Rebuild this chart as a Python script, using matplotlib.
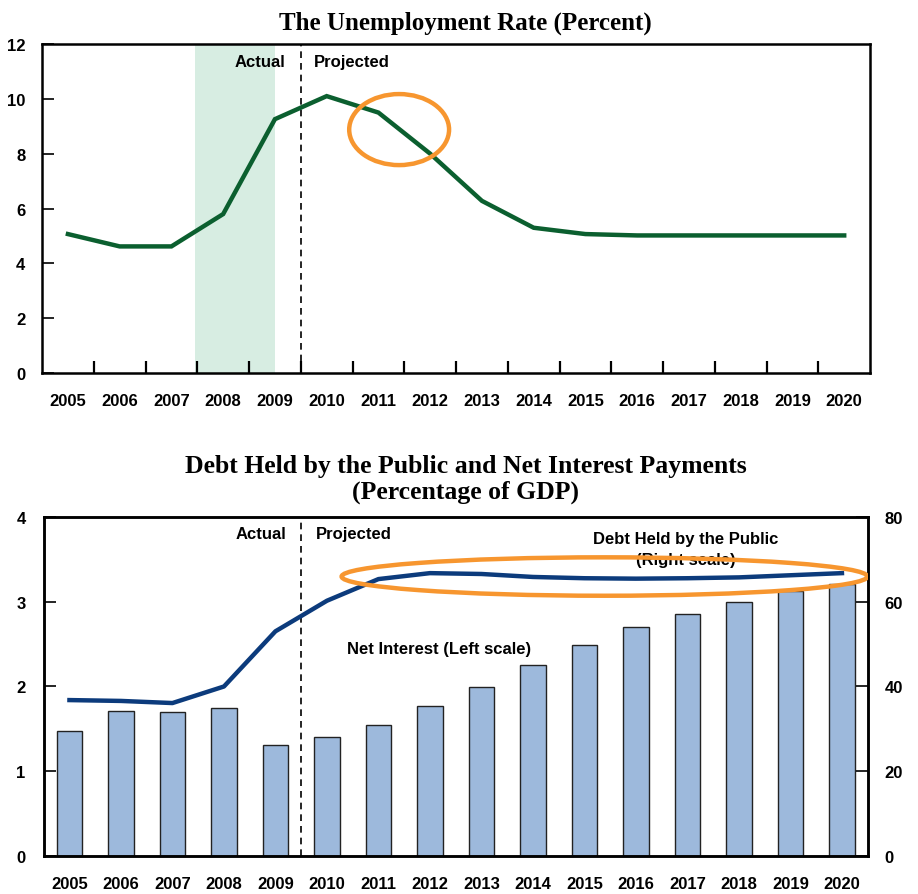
import matplotlib
matplotlib.use('Agg')
import matplotlib.pyplot as plt
from matplotlib.patches import Ellipse

plt.rcParams['font.family'] = ['Liberation Sans', 'DejaVu Sans']

# data
years = [str(y) for y in range(2005, 2021)]
unemployment = [5.07, 4.62, 4.62, 5.8, 9.26, 10.1, 9.5, 8.0, 6.28, 5.3,
                5.07, 5.02, 5.02, 5.02, 5.02, 5.02]
net_interest = [1.47, 1.71, 1.70, 1.75, 1.31, 1.41, 1.55, 1.77, 1.99, 2.25,
                2.49, 2.70, 2.85, 3.00, 3.12, 3.21]
debt_public = [36.8, 36.6, 36.1, 40.0, 53.0, 60.2, 65.3, 66.7, 66.5, 65.8,
               65.5, 65.4, 65.5, 65.7, 66.2, 66.7]

GREEN = '#0b5f2f'
NAVY = '#0c3b7c'
BAR = '#9db9dc'
ORANGE = '#f7962f'
SHADE = '#d7ede2'

x = list(range(len(years)))
bounds = [i + 0.5 for i in x[:-1]]

fig = plt.figure(figsize=(9.18, 8.95), dpi=100)

# ---- top panel: unemployment rate
ax1 = fig.add_axes([0.0458, 0.582, 0.902, 0.3677])
ax1.axvspan(2.45, 4.0, color=SHADE, lw=0, zorder=0)
ax1.axvline(4.5, color='black', ls=(0, (4, 3)), lw=1.2, zorder=1)
ax1.plot(x, unemployment, color=GREEN, lw=3.2, solid_joinstyle='miter', zorder=3)
ax1.add_patch(Ellipse((6.40, 8.88), 1.93, 2.59, fill=False, ec=ORANGE, lw=3.2, zorder=4))
ax1.set_xlim(-0.5, 15.5)
ax1.set_ylim(0, 12)
ax1.set_xticks(x)
ax1.set_xticklabels(years)
ax1.set_xticks(bounds, minor=True)
ax1.tick_params(axis='x', which='major', length=0, pad=14)
ax1.tick_params(axis='x', which='minor', direction='in', length=8.6, width=1.6)
ax1.set_yticks(range(0, 13, 2))
ax1.tick_params(axis='y', direction='in', length=8.6, width=1.2, pad=12)
for lab in ax1.get_xticklabels() + ax1.get_yticklabels():
    lab.set_fontweight('bold')
    lab.set_fontsize(12)
for s in ax1.spines.values():
    s.set_linewidth(1.8)
ax1.text(4.2, 11.38, 'Actual', ha='right', va='center', fontsize=12, fontweight='bold')
ax1.text(4.76, 11.38, 'Projected', ha='left', va='center', fontsize=12, fontweight='bold')
fig.text(0.507, 0.974, 'The Unemployment Rate (Percent)', ha='center', va='center',
         fontsize=18, fontweight='bold', family=['Liberation Serif', 'DejaVu Serif'])

# ---- bottom panel: debt and net interest
ax2 = fig.add_axes([0.0476, 0.0421, 0.8976, 0.3795])
ax2.bar(x, net_interest, width=0.5, color=BAR, edgecolor='#222222', lw=1.0, zorder=2)
ax2.axvline(4.5, color='black', ls=(0, (4, 3)), lw=1.2, zorder=1)
ax2.set_xlim(-0.5, 15.5)
ax2.set_ylim(0, 4)
ax2.set_xticks(x)
ax2.set_xticklabels(years)
ax2.tick_params(axis='x', length=0, pad=14)
ax2.set_yticks(range(0, 5))
ax2.tick_params(axis='y', direction='in', length=8.6, width=1.2, pad=13)

ax3 = ax2.twinx()
ax3.plot(x, debt_public, color=NAVY, lw=3.2, zorder=3)
ax3.add_patch(Ellipse((10.39, 65.9), 10.21, 9.05, fill=False, ec=ORANGE, lw=3.2, zorder=5))
ax3.set_ylim(0, 80)
ax3.set_yticks(range(0, 81, 20))
ax3.tick_params(axis='y', direction='in', length=8.6, width=1.2, pad=12)

for lab in ax2.get_xticklabels() + ax2.get_yticklabels() + ax3.get_yticklabels():
    lab.set_fontweight('bold')
    lab.set_fontsize(12)
for a in (ax2, ax3):
    for s in a.spines.values():
        s.set_linewidth(1.8)

ax2.text(4.22, 3.80, 'Actual', ha='right', va='center', fontsize=12, fontweight='bold')
ax2.text(4.79, 3.80, 'Projected', ha='left', va='center', fontsize=12, fontweight='bold')
ax2.text(5.39, 2.45, 'Net Interest (Left scale)', ha='left', va='center',
         fontsize=12, fontweight='bold')
ax3.text(11.96, 74.8, 'Debt Held by the Public', ha='center', va='center',
         fontsize=12, fontweight='bold', zorder=4)
ax3.text(11.96, 69.8, '(Right scale)', ha='center', va='center',
         fontsize=12, fontweight='bold', zorder=4)

fig.text(0.507, 0.4642, 'Debt Held by the Public and Net Interest Payments\n(Percentage of GDP)',
         ha='center', va='center', fontsize=18.5, fontweight='bold', linespacing=1.1,
         family=['Liberation Serif', 'DejaVu Serif'])

fig.savefig('out.png', dpi=100)
